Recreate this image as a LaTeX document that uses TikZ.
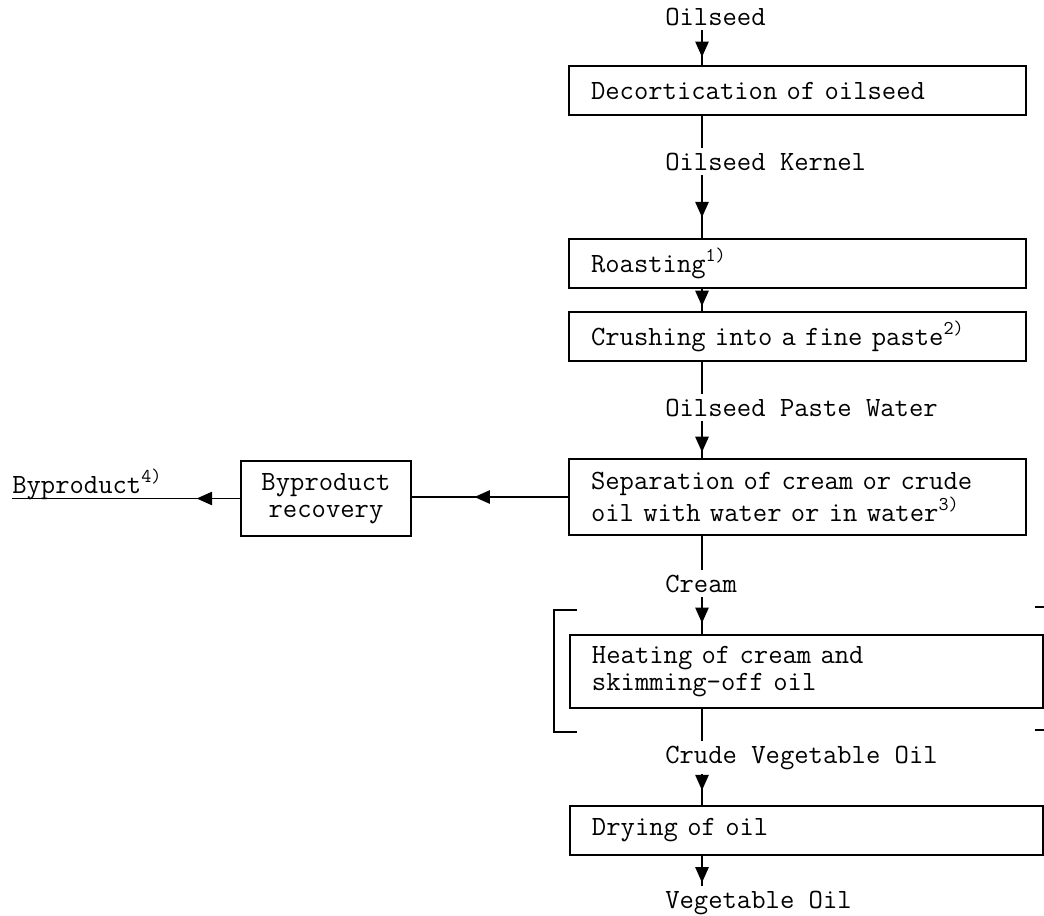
\documentclass[tikz,border=0pt]{standalone}
\usepackage{tikz}
\usetikzlibrary{arrows.meta, decorations.markings}

\begin{document}
\begin{tikzpicture}[
        x=0.025cm, y=-0.025cm,
        font=\ttfamily\fontsize{19.8}{19.6}\selectfont,
        stepbox/.style={rectangle, draw=black, line width=1.4pt, anchor=north west, align=left, inner xsep=0.55cm, text width=10.325cm, minimum height=1.225cm},
        widebox/.style={stepbox, text width=10.725cm},
        lbl/.style={anchor=base west, inner xsep=0pt, inner ysep=0.12cm},
        link/.style={line width=1.1pt},
        flow/.style={link, postaction={decorate}, decoration={markings, mark=at position #1 with {\arrow{Triangle[width=9.5pt,length=11pt]}}}},
        flow/.default=0.7
    ]
        \useasboundingbox (0,0) rectangle (1044,915);
        % Nodes
        \node[lbl] (oilseed) at (665,25) {Oilseed};
        \node[stepbox] (dec) at (568,65) {Decortication of oilseed};
        \node[lbl] (kernel) at (665,170) {Oilseed Kernel};
        \node[stepbox] (roast) at (568,238) {Roasting\textsuperscript{1)}};
        \node[stepbox] (crush) at (568,311) {Crushing into a fine paste\textsuperscript{2)}};
        \node[lbl] (paste) at (665,416) {Oilseed Paste Water};
        \node[stepbox, minimum height=1.9cm] (sep) at (568,458) {Separation of cream or crude\\oil with water or in water\textsuperscript{3)}};
        
        \node[rectangle, draw=black, line width=1.4pt, anchor=north west, align=center, minimum width=4.25cm, minimum height=1.875cm] (byp) at (240,460) {Byproduct\\recovery};
        \node[anchor=base west, inner sep=0pt] (bytext) at (12,493) {Byproduct\textsuperscript{4)}};
        
        \node[lbl] (cream) at (665,592) {Cream};
        \node[widebox, minimum height=1.825cm] (heat) at (569,634) {Heating of cream and\\skimming-off oil};
        \node[lbl] (crude) at (665,763) {Crude Vegetable Oil};
        \node[widebox] (dry) at (569,805) {Drying of oil};
        \node[lbl] (vegoil) at (665,908) {Vegetable Oil};
        
        % Arrows
        \coordinate (spine) at (702,0);
        \draw[flow=0.77] (oilseed.south -| spine) -- (dec.north -| spine);
        \draw[link] (dec.south -| spine) -- (kernel.north -| spine);
        \draw[flow=0.67] (kernel.south -| spine) -- (roast.north -| spine);
        \draw[flow=0.78] (roast.south -| spine) -- (crush.north -| spine);
        \draw[link] (crush.south -| spine) -- (paste.north -| spine);
        \draw[flow=0.84] (paste.south -| spine) -- (sep.north -| spine);
        \draw[link] (sep.south -| spine) -- (cream.north -| spine);
        \draw[flow=0.7] (cream.south -| spine) -- (heat.north -| spine);
        \draw[link] (heat.south -| spine) -- (crude.north -| spine);
        \draw[flow=0.52] (crude.south -| spine) -- (dry.north -| spine);
        \draw[flow=0.9] (dry.south -| spine) -- (vegoil.north -| spine);
        
        \draw[flow=0.6] (sep.west) -- (sep.west -| byp.east);
        \draw[flow=0.19] (byp.west) -- (byp.west -| bytext.west);
        
        % bracket round the heating step
        \draw[link] (577,610) -- (554,610) -- (554,732) -- (577,732);
        \draw[link] (1035,607) -- (1044,607);
        \draw[link] (1035,730) -- (1044,730);
    \end{tikzpicture}
\end{document}
